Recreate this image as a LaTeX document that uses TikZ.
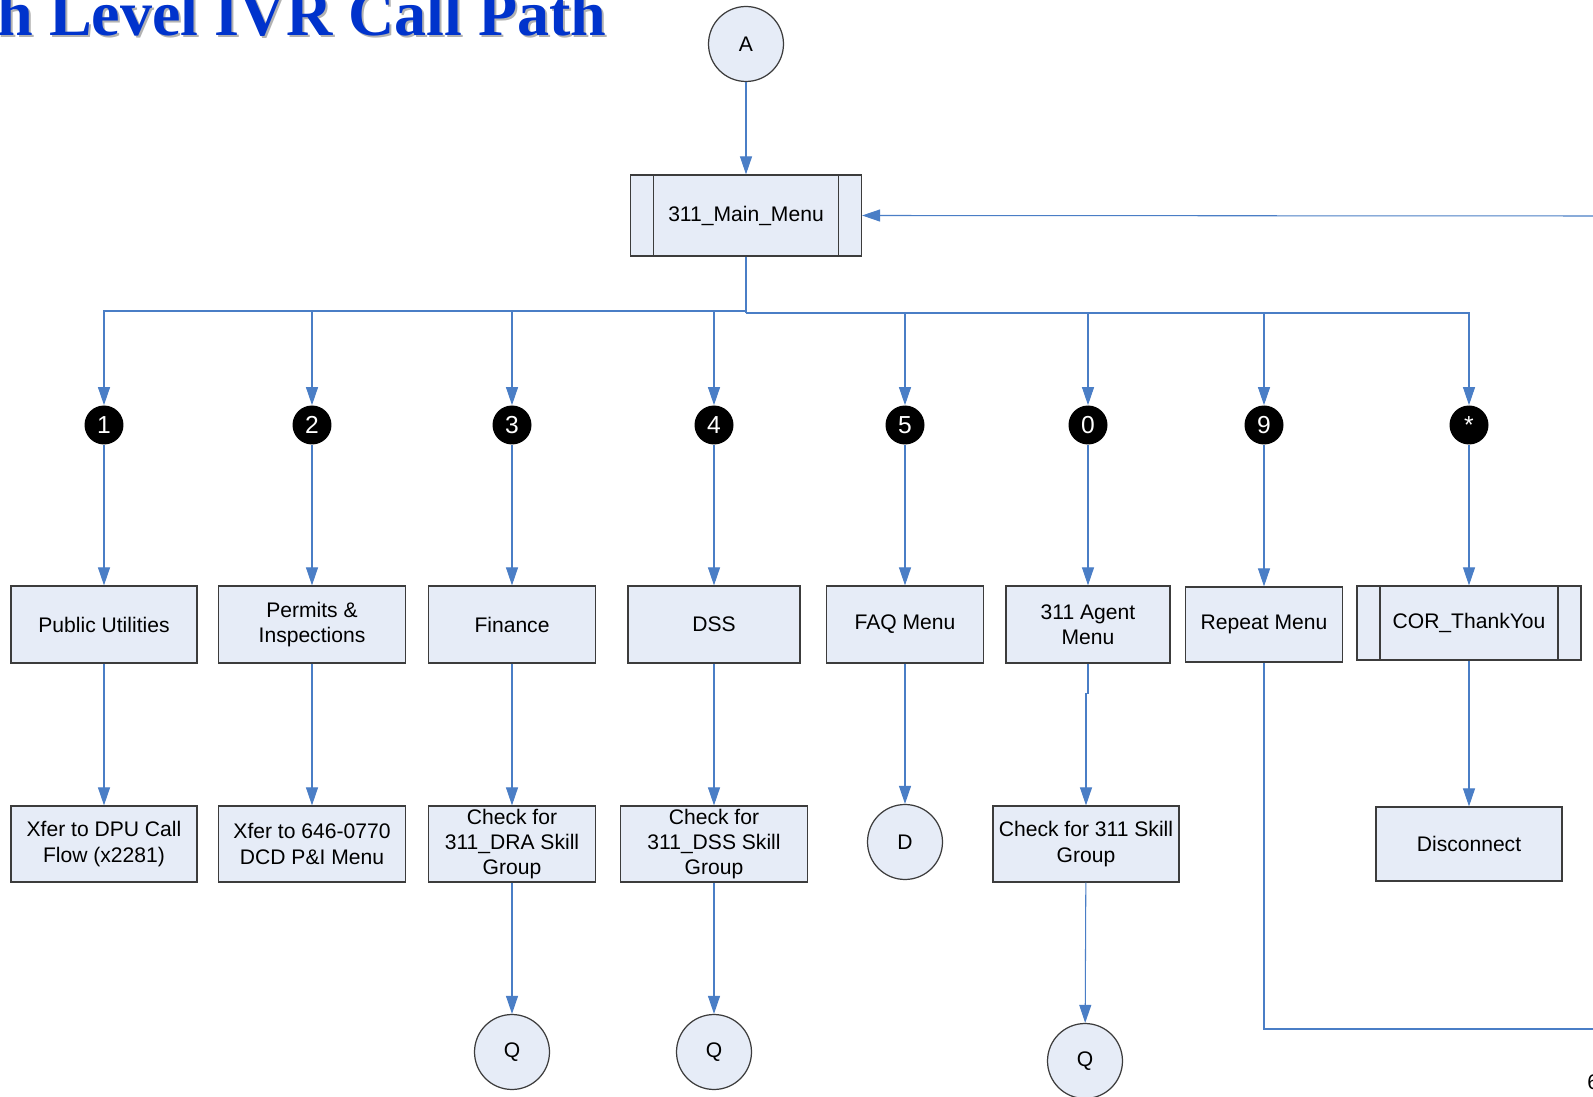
\documentclass[tikz,border=0pt]{standalone}
\usepackage{fontspec}
\usetikzlibrary{positioning,arrows.meta}
\setmainfont{Liberation Sans}
\newfontfamily\titlefont{Liberation Serif}
\definecolor{boxfill}{HTML}{E6ECF7}
\definecolor{boxline}{HTML}{3C3C3C}
\definecolor{linkblue}{HTML}{4A7EC6}
\definecolor{titleblue}{HTML}{0033CC}

\begin{document}
\begin{tikzpicture}[x=0.02cm,y=-0.02cm,
  every node/.style={font=\fontsize{12}{14.4}\selectfont},
  box/.style={draw=boxline,line width=0.7pt,fill=boxfill,align=center,inner sep=0pt,minimum height=1.54cm},
  subproc/.style={box,path picture={
    \draw[boxline,line width=0.7pt] ([xshift=0.46cm]path picture bounding box.north west)--([xshift=0.46cm]path picture bounding box.south west);
    \draw[boxline,line width=0.7pt] ([xshift=-0.46cm]path picture bounding box.north east)--([xshift=-0.46cm]path picture bounding box.south east);}},
  conn/.style={circle,draw=boxline,line width=0.7pt,fill=boxfill,minimum size=1.5cm,inner sep=0pt},
  digit/.style={circle,fill=black,text=white,minimum size=0.78cm,inner sep=0pt,font=\fontsize{14}{14}\selectfont},
  link/.style={draw=linkblue,line width=0.6pt},
  flow/.style={link,-{Triangle[length=0.36cm,width=0.24cm]}},
  heading/.style={anchor=base east,inner sep=0pt,font=\titlefont\bfseries\fontsize{36.5}{36.5}\selectfont}]
\clip (0,0) rectangle (1593,1097);
\fill[white] (0,0) rectangle (1593,1097);
\node[heading,text=gray!60] at (609,38) {h Level IVR Call Path};
\node[heading,text=titleblue] (title) at (607,36) {h Level IVR Call Path};

\node[conn] (A) at (746,44) {A};
\node[subproc,minimum width=4.62cm,minimum height=1.62cm] (main) at (746,215.5) {311\_Main\_Menu};

\node[digit] (d1) at (104,425) {1};
\node[digit] (d2) at (312,425) {2};
\node[digit] (d3) at (512,425) {3};
\node[digit] (d4) at (714,425) {4};
\node[digit] (d5) at (905,425) {5};
\node[digit] (d0) at (1088,425) {0};
\node[digit] (d9) at (1264,425) {9};
\node[digit] (dstar) at (1469,425) {*};

\node[box,minimum width=3.72cm] (pu) at (104,624.5) {Public Utilities};
\node[box,minimum width=3.74cm] (pi) at (312,624.5) {Permits \&\\Inspections};
\node[box,minimum width=3.34cm] (fin) at (512,624.5) {Finance};
\node[box,minimum width=3.44cm] (dss) at (714,624.5) {DSS};
\node[box,minimum width=3.14cm] (faq) at (905,624.5) {FAQ Menu};
\node[box,minimum width=3.28cm] (agent) at (1088,624.5) {311 Agent\\Menu};
\node[box,minimum width=3.14cm,minimum height=1.5cm] (rep) at (1264,624.5) {Repeat Menu};
\node[subproc,minimum width=4.48cm,minimum height=1.48cm] (cor) at (1469,623) {COR\_ThankYou};

\node[box,minimum width=3.72cm,minimum height=1.52cm] (dpu) at (104,844) {Xfer to DPU Call\\Flow (x2281)};
\node[box,minimum width=3.74cm,minimum height=1.52cm] (dcd) at (312,844) {Xfer to 646-0770\\DCD P\&I Menu};
\node[box,minimum width=3.34cm,minimum height=1.52cm] (dra) at (512,844) {Check for\\311\_DRA Skill\\Group};
\node[box,minimum width=3.74cm,minimum height=1.52cm] (dssk) at (714,844) {Check for\\311\_DSS Skill\\Group};
\node[conn] (D) at (905,842) {D};
\node[box,minimum width=3.72cm,minimum height=1.52cm] (sk) at (1086,844) {Check for 311 Skill\\Group};
\node[box,minimum width=3.72cm,minimum height=1.48cm] (disc) at (1469,844) {Disconnect};

\node[conn] (q1) at (512,1052) {Q};
\node[conn] (q2) at (714,1052) {Q};
\node[conn] (q3) at (1085,1061) {Q};
\node[anchor=west,inner sep=0pt] (pg) at (1587,1082) {6};

\coordinate (busL) at (746,311);
\coordinate (busR) at (746,313);
\coordinate (loopT) at (1593,216);
\coordinate (loopB) at (1593,1029);

\draw[flow] (A) -- (main);
\draw[link] (main) -- (busR);
\foreach \d in {d1,d2,d3,d4} \draw[flow] (busL) -| (\d);
\foreach \d in {d5,d0,d9,dstar} \draw[flow] (busR) -| (\d);
\draw[flow] (d1) -- (pu);
\draw[flow] (d2) -- (pi);
\draw[flow] (d3) -- (fin);
\draw[flow] (d4) -- (dss);
\draw[flow] (d5) -- (faq);
\draw[flow] (d0) -- (agent);
\draw[flow] (d9) -- (rep);
\draw[flow] (dstar) -- (cor);
\draw[flow] (pu) -- (dpu);
\draw[flow] (pi) -- (dcd);
\draw[flow] (fin) -- (dra);
\draw[flow] (dss) -- (dssk);
\draw[flow] (faq) -- (D);
\draw[flow] (agent.south) -- ++(0,30) -| (sk.north);
\draw[flow] (cor) -- (disc);
\draw[flow] (dra) -- (q1);
\draw[flow] (dssk) -- (q2);
\draw[flow] (sk) -- (q3);
\draw[link] (rep.south) |- (loopB);
\draw[flow] (loopT) -- (main.east);
\end{tikzpicture}
\end{document}
